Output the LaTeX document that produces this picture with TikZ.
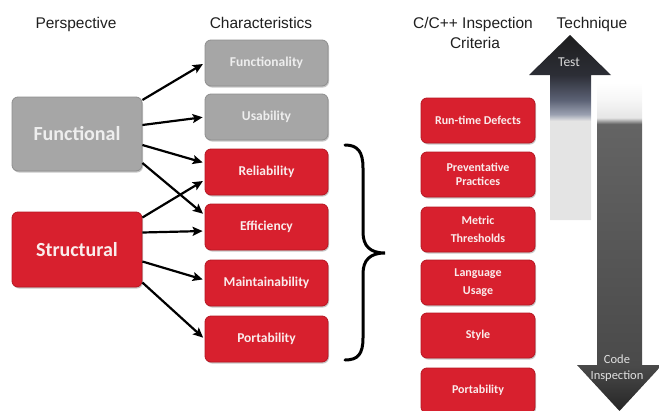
\documentclass[tikz,border=0pt]{standalone}
\usepackage{fontspec}
\setmainfont{Liberation Sans}
\newfontfamily\boxfont{Carlito}
\usetikzlibrary{arrows.meta}
\definecolor{boxred}{RGB}{216,32,46}
\definecolor{boxredline}{RGB}{182,22,34}
\definecolor{boxgray}{RGB}{166,166,166}
\definecolor{boxgrayline}{RGB}{142,142,142}
\definecolor{redtext}{RGB}{250,236,236}
\definecolor{graytext}{RGB}{238,238,238}
\definecolor{upA}{RGB}{228,228,228}
\definecolor{upB}{RGB}{154,160,176}
\definecolor{upC}{RGB}{92,98,117}
\definecolor{upD}{RGB}{44,46,54}
\definecolor{upE}{RGB}{30,30,30}
\definecolor{dnA}{RGB}{255,255,255}
\definecolor{dnB}{RGB}{246,246,246}
\definecolor{dnC}{RGB}{230,230,230}
\definecolor{dnD}{RGB}{100,100,100}
\definecolor{dnE}{RGB}{74,74,74}
\definecolor{dnF}{RGB}{38,38,38}
\pgfdeclareverticalshading{upshade}{100bp}{color(0bp)=(upA); color(25bp)=(upA); color(51.8bp)=(upA); color(53.6bp)=(upB); color(57.4bp)=(upC); color(64.2bp)=(upD); color(75bp)=(upE); color(100bp)=(upE)}
\pgfdeclareverticalshading{downshade}{100bp}{color(0bp)=(dnF); color(25bp)=(dnF); color(32bp)=(dnE); color(68.75bp)=(dnD); color(69.7bp)=(dnC); color(72.4bp)=(dnB); color(75bp)=(dnA); color(100bp)=(dnA)}
\begin{document}
\begin{tikzpicture}[x=1pt,y=-1pt,
  hdr/.style={font=\fontsize{15.5}{18}\selectfont, text=black!88, inner sep=0, anchor=base},
  bx/.style={rounded corners=6pt, inner sep=0, line width=0.8pt, align=center,
    preaction={fill=black!22, transform canvas={shift={(1pt,-1.5pt)}}}},
  redbox/.style={bx, fill=boxred, draw=boxredline, text=redtext},
  graybox/.style={bx, fill=boxgray, draw=boxgrayline, text=graytext},
  bigtxt/.style={font=\boxfont\bfseries\fontsize{20}{24}\selectfont, minimum width=130pt, minimum height=74pt},
  chartxt/.style={font=\boxfont\bfseries\fontsize{13.5}{16}\selectfont, minimum width=123pt, minimum height=46pt},
  crittxt/.style={font=\boxfont\bfseries\fontsize{12}{18.5}\selectfont, minimum width=114pt, minimum height=45pt},
  conn/.style={line width=2.2pt, -{Stealth[length=10pt,width=9pt,inset=2pt]}, shorten >=2pt}
]
\useasboundingbox (0,0) rectangle (659,410);

% headers
\node[hdr] (hpersp) at (76,28) {Perspective};
\node[hdr] (hchar) at (261,28) {Characteristics};
\node[hdr] (hcrit1) at (473,28) {C/C++ Inspection};
\node[hdr] (hcrit2) at (475,48) {Criteria};
\node[hdr] (htech) at (592,28) {Technique};

% perspective boxes
\node[graybox, bigtxt] (func) at (77,134) {Functional};
\node[redbox, bigtxt, minimum height=75pt] (struct) at (77,249.5) {Structural};

% characteristics
\node[graybox, chartxt] (funcy) at (266.5,63) {Functionality};
\node[graybox, chartxt] (usab) at (266.5,117) {Usability};
\node[redbox, chartxt] (rel) at (266.5,172) {Reliability};
\node[redbox, chartxt] (eff) at (266.5,227) {Efficiency};
\node[redbox, chartxt] (maint) at (266.5,283) {Maintainability};
\node[redbox, chartxt] (port) at (266.5,339) {Portability};

% connectors
\draw[conn] ([yshift=34pt]func.east) -- (funcy.west);
\draw[conn] ([yshift=9pt]func.east) -- (usab.west);
\draw[conn] ([yshift=-11pt]func.east) -- ([yshift=9pt]rel.west);
\draw[conn] ([yshift=-29pt]func.east) -- ([yshift=12pt]eff.west);
\draw[conn] ([yshift=32pt]struct.east) -- ([yshift=-8pt]rel.west);
\draw[conn] ([yshift=17pt]struct.east) -- ([yshift=-4pt]eff.west);
\draw[conn] ([yshift=-12pt]struct.east) -- ([yshift=3pt]maint.west);
\draw[conn] ([yshift=-33pt]struct.east) -- (port.west);

% brace
\draw[line width=3pt, line cap=round]
  (345,145) .. controls (358,145) and (363,152) .. (363,168) -- (363,232)
  .. controls (363,246) and (370,253) .. (385,253)
  .. controls (370,253) and (363,260) .. (363,274) -- (363,338)
  .. controls (363,354) and (358,360) .. (345,360);

% criteria
\node[redbox, crittxt] (c1) at (478,120.5) {Run-time Defects};
\node[redbox, crittxt, font=\boxfont\bfseries\fontsize{12}{14.5}\selectfont] (c2) at (478,174.5) {Preventative\\Practices};
\node[redbox, crittxt] (c3) at (478,229.5) {Metric\\Thresholds};
\node[redbox, crittxt] (c4) at (478,282.5) {Language\\Usage};
\node[redbox, crittxt] (c5) at (478,335.5) {Style};
\node[redbox, crittxt] (c6) at (478,390.5) {Portability};

% technique arrows
\path[shading=upshade] (550,220) -- (550,75) -- (529,75) -- (570,35) -- (611,75) -- (591,75) -- (591,220) -- cycle;
\path[shading=downshade] (597,83) -- (642,83) -- (642,365) -- (662,365) -- (619.5,411) -- (577,365) -- (597,365) -- cycle;
\node[font=\boxfont\fontsize{13.5}{16}\selectfont, text=black!15, inner sep=0] (test) at (569,62) {Test};
\node[font=\boxfont\fontsize{12.5}{16}\selectfont, text=black!12, inner sep=0, align=center] (code) at (617,368) {Code\\Inspection};
\end{tikzpicture}
\end{document}
